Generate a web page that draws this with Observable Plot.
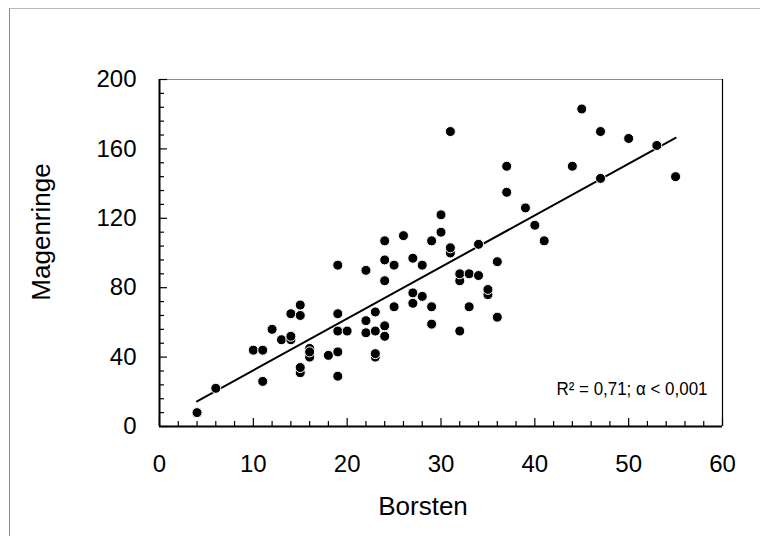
<!DOCTYPE html>
<html><head><meta charset="utf-8">
<script src="https://cdn.jsdelivr.net/npm/d3@7"></script>
<script src="https://cdn.jsdelivr.net/npm/@observablehq/plot@0.6"></script>
<style>
body{margin:0;background:#fff;}
#wrap{position:relative;width:760px;height:536px;overflow:hidden;}
#outer{position:absolute;left:9px;top:8px;width:800px;height:600px;border-left:1px solid #8c8c8c;border-top:1px solid #b8b8b8;pointer-events:none;}
</style>
</head><body>
<div id="wrap"><div id="chart"></div><div id="outer"></div></div>
<script>
const borsten    = [4, 6, 10, 11, 11, 12, 13, 14, 14, 14, 15, 15, 15, 15, 16, 16, 16, 18, 19, 19, 19, 19, 19, 20, 22, 22, 22, 23, 23, 23, 23, 24, 24, 24, 24, 24, 25, 25, 26, 27, 27, 27, 28, 28, 29, 29, 29, 30, 30, 31, 31, 31, 32, 32, 32, 33, 33, 34, 34, 35, 35, 36, 36, 37, 37, 39, 40, 41, 44, 45, 47, 47, 50, 53, 55];
const magenringe = [8, 22, 44, 44, 26, 56, 50, 65, 50, 52, 70, 64, 31, 34, 45, 40, 43, 41, 93, 65, 55, 43, 29, 55, 90, 61, 54, 66, 55, 40, 42, 107, 96, 84, 58, 52, 93, 69, 110, 97, 77, 71, 93, 75, 107, 69, 59, 122, 112, 170, 100, 103, 84, 88, 55, 88, 69, 105, 87, 76, 79, 95, 63, 150, 135, 126, 116, 107, 150, 183, 170, 143, 166, 162, 144];
const fitX = [4, 55];
const fitY = [14.5, 166.4];
const xTicks = [0, 10, 20, 30, 40, 50, 60];
const xMinorTicks = d3.range(0, 61, 2);
const yTicks = [0, 40, 80, 120, 160, 200];
const yMinorTicks = d3.range(0, 201, 8);
const xTitle = "Borsten";
const yTitle = "Magenringe";
const note = "R\u00B2 = 0,71; \u03B1 < 0,001";

const W = 760, H = 536, ML = 159, MR = 38, MT = 79, MB = 110;
const pxPerX = (W - ML - MR) / 60;
const pxPerY = (H - MT - MB) / 200;
const points = borsten.map((b, i) => ({b, m: magenringe[i]}));
const fit = fitX.map((x, i) => ({x, y: fitY[i]}));
const font = "'Liberation Sans', Arial, sans-serif";

const chart = Plot.plot({
  width: W, height: H,
  marginLeft: ML, marginRight: MR, marginTop: MT, marginBottom: MB,
  style: {fontFamily: font, background: "white", overflow: "visible"},
  x: {domain: [0, 60], axis: null},
  y: {domain: [0, 200], axis: null},
  marks: [
    Plot.ruleY([200], {stroke: "#8c8c8c", strokeWidth: 1.2}),
    Plot.ruleX([60], {stroke: "black", strokeWidth: 1.2}),
    Plot.ruleX(xMinorTicks, {x: d => d, y1: 0, y2: d => (d % 10 === 0 ? 8 : 5) / pxPerY, stroke: "black", strokeWidth: 1.2}),
    Plot.ruleY(yMinorTicks, {y: d => d, x1: 0, x2: d => (d % 40 === 0 ? 8 : 5) / pxPerX, stroke: "black", strokeWidth: 1.2}),
    Plot.ruleY([0], {stroke: "black", strokeWidth: 2}),
    Plot.ruleX([0], {stroke: "black", strokeWidth: 2}),
    Plot.text(xTicks, {x: d => d, y: 0, text: d => String(d), dy: 38, fontSize: 24, fill: "black", lineAnchor: "middle"}),
    Plot.text(yTicks, {x: 0, y: d => d, text: d => String(d), dx: -23, textAnchor: "end", fontSize: 24, fill: "black", lineAnchor: "middle"}),
    Plot.text([xTitle], {frameAnchor: "bottom", text: d => d, textAnchor: "middle", lineAnchor: "middle", dx: -18, dy: 80, fontSize: 26, fill: "black"}),
    Plot.text([yTitle], {frameAnchor: "left", text: d => d, rotate: -90, textAnchor: "middle", lineAnchor: "middle", dx: -118, dy: -21, fontSize: 26, fill: "black"}),
    Plot.line(fit, {x: "x", y: "y", stroke: "black", strokeWidth: 2}),
    Plot.dot(points, {x: "b", y: "m", r: 5, fill: "black", stroke: "white", strokeWidth: 1}),
    Plot.text([note], {frameAnchor: "bottom-right", text: d => d, textAnchor: "start", lineAnchor: "middle", dx: -166, dy: -38, fontSize: 19, fill: "black", className: "note"})
  ]
});
d3.select(chart).selectAll(".note text").attr("textLength", 151).attr("lengthAdjust", "spacingAndGlyphs");
document.getElementById("chart").appendChild(chart);
</script>
</body></html>
